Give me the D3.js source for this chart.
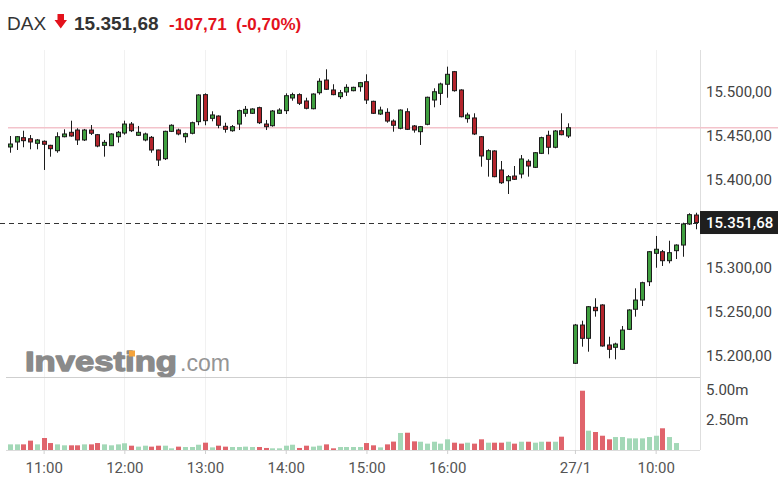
<!DOCTYPE html>
<html>
<head>
<meta charset="utf-8">
<script src="https://cdn.jsdelivr.net/npm/d3@7"></script>
<style>
  html, body { margin: 0; padding: 0; background: #fff; }
  svg { display: block; }
</style>
</head>
<body>
<div id="chart"></div>
<script>
// ---------- DATA ----------
const day1Times = ["10:35","10:40","10:45","10:50","10:55","11:00","11:05","11:10","11:15","11:20","11:25","11:30","11:35","11:40","11:45","11:50","11:55",
"12:00","12:05","12:10","12:15","12:20","12:25","12:30","12:35","12:40","12:45","12:50","12:55",
"13:00","13:05","13:10","13:15","13:20","13:25","13:30","13:35","13:40","13:45","13:50","13:55",
"14:00","14:05","14:10","14:15","14:20","14:25","14:30","14:35","14:40","14:45","14:50","14:55",
"15:00","15:05","15:10","15:15","15:20","15:25","15:30","15:35","15:40","15:45","15:50","15:55",
"16:00","16:05","16:10","16:15","16:20","16:25","16:30","16:35","16:40","16:45","16:50","16:55",
"17:00","17:05","17:10","17:15","17:20","17:25","17:30"];
const day2Times = ["09:00","09:05","09:10","09:15","09:20","09:25","09:30","09:35","09:40","09:45","09:50","09:55",
"10:00","10:05","10:10","10:15","10:20","10:25","10:30"];

const open1 = [15437.5,15443.2,15448.1,15446.9,15441.7,15444.0,15439.4,15433.3,15449.2,15454.2,15456.8,15445.5,15456.8,15451.5,15439.4,15439.0,15449.2,
15453.4,15463.6,15450.8,15445.5,15448.5,15434.1,15424.2,15455.3,15456.8,15449.2,15453.1,
15466.3,15497.0,15470.1,15472.7,15461.0,15456.0,15463.6,15475.8,15475.8,15482.2,15463.6,15461.7,15475.8,
15478.8,15493.2,15497.0,15489.8,15481.0,15499.2,15513.6,15502.3,15494.7,15500.0,15501.5,15506.0,
15511.7,15489.4,15475.0,15476.9,15467.0,15458.8,15477.6,15461.4,15454.9,15463.3,15490.9,15498.5,
15508.8,15523.1,15502.3,15469.7,15470.5,15449.2,15423.5,15433.0,15411.4,15399.2,15404.5,15406.8,
15421.3,15414.4,15430.3,15450.8,15437.2,15456.0,15450.0];
const high1 = [15450.0,15450.0,15456.0,15451.1,15446.6,15445.0,15440.0,15454.2,15457.6,15467.4,15458.8,15458.0,15462.5,15452.3,15445.5,15453.1,15455.7,
15467.4,15465.9,15461.4,15453.8,15450.0,15434.5,15456.0,15463.3,15458.3,15453.8,15466.3,
15497.4,15498.5,15478.1,15473.5,15465.1,15462.5,15479.9,15484.1,15481.5,15483.3,15468.2,15479.5,15481.5,
15498.5,15499.2,15498.5,15493.5,15498.5,15515.6,15525.8,15508.8,15502.3,15508.8,15506.0,15511.4,
15520.1,15490.1,15483.3,15481.5,15468.9,15480.3,15481.5,15462.5,15461.4,15494.7,15504.2,15510.6,
15528.8,15523.9,15503.1,15476.5,15475.8,15450.0,15434.9,15433.8,15421.6,15405.7,15415.9,15428.4,
15423.5,15431.8,15449.2,15456.0,15456.8,15475.8,15464.4];
const low1 = [15431.0,15434.1,15437.2,15434.9,15434.9,15411.4,15426.5,15431.0,15448.5,15449.2,15439.8,15444.3,15451.1,15437.2,15426.5,15438.6,15442.4,
15451.5,15454.5,15450.0,15444.0,15431.0,15415.9,15422.7,15454.5,15450.8,15442.4,15451.9,
15462.2,15462.2,15466.7,15458.8,15453.8,15454.9,15456.8,15471.9,15475.0,15463.6,15456.8,15460.6,15475.0,
15475.0,15490.1,15485.2,15480.3,15480.3,15497.0,15502.3,15496.3,15492.0,15495.5,15500.8,15500.4,
15486.4,15475.0,15473.9,15465.1,15454.9,15457.6,15456.8,15453.8,15439.8,15462.2,15482.6,15485.2,
15493.5,15500.4,15471.2,15465.1,15451.1,15415.1,15403.8,15403.1,15395.5,15384.1,15400.0,15401.9,
15403.8,15413.6,15429.5,15429.2,15436.0,15450.8,15447.7];
const close1 = [15440.9,15449.2,15444.7,15443.2,15445.5,15440.6,15435.6,15449.2,15452.3,15450.0,15445.5,15456.8,15453.1,15438.6,15442.8,15452.3,15454.2,
15463.6,15456.0,15454.2,15452.3,15434.1,15422.7,15455.3,15462.2,15452.3,15452.6,15465.1,
15496.6,15467.4,15473.9,15462.2,15457.6,15460.6,15478.8,15480.3,15480.7,15465.1,15460.6,15478.4,15479.5,
15495.8,15497.0,15487.2,15481.5,15497.7,15512.2,15503.1,15497.0,15499.2,15505.3,15505.3,15510.6,
15490.9,15475.8,15479.5,15467.0,15462.2,15479.5,15457.6,15456.8,15460.6,15494.0,15500.3,15509.1,
15520.1,15501.5,15471.9,15473.9,15452.3,15427.3,15433.3,15403.8,15396.9,15403.8,15400.8,15423.9,
15415.9,15431.0,15448.1,15437.2,15455.7,15451.5,15459.39];
const volume1 = [0.47,0.47,0.47,0.78,0.47,1.0,0.58,0.47,0.39,0.39,0.39,0.47,0.47,0.58,0.47,0.39,0.47,
0.56,0.36,0.28,0.36,0.28,0.36,0.36,0.14,0.28,0.25,0.25,
0.44,0.61,0.22,0.36,0.28,0.25,0.25,0.28,0.25,0.25,0.17,0.14,0.14,
0.36,0.44,0.17,0.36,0.28,0.36,0.47,0.14,0.25,0.25,0.25,0.25,
0.58,0.39,0.22,0.47,0.70,1.42,1.44,0.72,0.69,0.53,0.69,0.53,
0.89,0.61,0.53,0.61,0.53,0.89,0.61,0.61,0.61,0.69,0.53,0.69,
0.69,0.61,0.69,0.69,0.69,1.11,0];

const open2  = [15191.7,15235.2,15220.1,15255.3,15258.0,15212.5,15209.9,15207.6,15230.3,15253.1,15263.6,15284.4,15316.7,15318.5,15308.3,15319.7,15326.1,15350.0,15360.2];
const high2  = [15236.4,15240.1,15256.8,15265.6,15258.8,15221.9,15215.1,15234.1,15253.1,15276.9,15284.4,15319.3,15336.4,15320.5,15331.0,15326.9,15351.5,15362.2,15362.8];
const low2   = [15190.9,15210.6,15204.9,15244.7,15210.6,15197.4,15196.2,15206.8,15229.5,15244.7,15256.8,15279.5,15300.3,15302.3,15305.3,15310.2,15312.8,15348.9,15344.0];
const close2 = [15235.2,15220.1,15256.0,15251.5,15211.4,15207.6,15213.6,15229.5,15252.3,15263.6,15283.3,15318.5,15321.3,15308.3,15317.4,15326.1,15350.0,15360.6,15351.68];
const volume2 = [0,4.94,1.61,1.50,1.19,0.89,1.08,1.08,0.97,0.97,0.97,1.08,1.19,1.81,1.08,0.58,0,0,0];

const prevClose = 15459.39;
const lastPrice = 15351.68;
const change = "-107,71";
const changePct = "(-0,70%)";
const symbol = "DAX";

const priceTicks = [15200, 15250, 15300, 15400, 15450, 15500];
const volumeTicks = [2.5, 5];
const timeTickKeys = ["26/1 11:00","26/1 12:00","26/1 13:00","26/1 14:00","26/1 15:00","26/1 16:00","27/1 09:00","27/1 10:00"];
const timeTickLabels = ["11:00","12:00","13:00","14:00","15:00","16:00","27/1","10:00"];

// ---------- BUILD ----------
const rows = [];
day1Times.forEach((t, i) => rows.push({key: "26/1 " + t, o: open1[i], h: high1[i], l: low1[i], c: close1[i], v: volume1[i]}));
day2Times.forEach((t, i) => rows.push({key: "27/1 " + t, o: open2[i], h: high2[i], l: low2[i], c: close2[i], v: volume2[i]}));

const W = 784, H = 496;
const svg = d3.select("#chart").append("svg").attr("width", W).attr("height", H);

const x = d3.scalePoint().domain(rows.map(d => d.key)).range([10, 696]);
const y = d3.scaleLinear().domain([15200, 15500]).range([356, 92]);
const yv = d3.scaleLinear().domain([0, 5]).range([450, 390]);

const loc = d3.formatLocale({decimal: ",", thousands: ".", grouping: [3], currency: ["", ""]});
const fmtPrice = loc.format(",.2f");

const GREEN = "#3f9f3f", RED = "#b3242c";
const VGREEN = "#a3d8b7", VRED = "#e0646c";
const axisFont = "Roboto, 'Liberation Sans', Arial, sans-serif";

// vertical grid
svg.append("g").selectAll("line").data(timeTickKeys).join("line")
  .attr("x1", d => Math.round(x(d)) + 0.5).attr("x2", d => Math.round(x(d)) + 0.5)
  .attr("y1", 50).attr("y2", 450).attr("stroke", "#f1f1f1").attr("stroke-width", 1);

// watermark
const wm = svg.append("g");
wm.append("text").attr("x", 25).attr("y", 371).text("Investing")
  .attr("font-family", "'Liberation Sans', Arial, sans-serif").attr("font-weight", "bold")
  .attr("font-size", 27).attr("textLength", 152).attr("lengthAdjust", "spacingAndGlyphs")
  .attr("fill", "#8a8a8a").attr("stroke", "#8a8a8a").attr("stroke-width", 1.3).attr("stroke-linejoin", "round");
wm.append("text").attr("x", 180).attr("y", 371).text(".com")
  .attr("font-family", "'Liberation Sans', Arial, sans-serif")
  .attr("font-size", 24).attr("textLength", 50).attr("lengthAdjust", "spacingAndGlyphs")
  .attr("fill", "#959595");
wm.append("rect").attr("x", 129).attr("y", 350.5).attr("width", 6).attr("height", 6).attr("fill", "#f5a33b");

// frame lines
svg.append("line").attr("x1", 6).attr("x2", 700).attr("y1", 377.5).attr("y2", 377.5).attr("stroke", "#cfcfcf");
svg.append("line").attr("x1", 6).attr("x2", 700).attr("y1", 450.5).attr("y2", 450.5).attr("stroke", "#dcdcdc");
svg.append("line").attr("x1", 700.5).attr("x2", 700.5).attr("y1", 50).attr("y2", 450).attr("stroke", "#dedede");

// previous close line
svg.append("line").attr("x1", 8).attr("x2", 778)
  .attr("y1", y(prevClose)).attr("y2", y(prevClose))
  .attr("stroke", "#f3c3cb").attr("stroke-width", 1.5);

// volume bars
svg.append("g").selectAll("rect").data(rows.filter(d => d.v > 0)).join("rect")
  .attr("x", d => Math.round(x(d.key)) - 2.5 + 0.5)
  .attr("width", 5)
  .attr("y", d => yv(d.v))
  .attr("height", d => yv(0) - yv(d.v))
  .attr("fill", d => d.c >= d.o ? VGREEN : VRED);

// candles
const cg = svg.append("g").selectAll("g").data(rows).join("g");
cg.append("line")
  .attr("x1", d => Math.round(x(d.key)) + 0.5).attr("x2", d => Math.round(x(d.key)) + 0.5)
  .attr("y1", d => y(d.h)).attr("y2", d => y(d.l))
  .attr("stroke", "#1c1c1c").attr("stroke-width", 1);
cg.append("rect")
  .attr("x", d => Math.round(x(d.key)) - 1.5)
  .attr("width", 4)
  .attr("y", d => y(Math.max(d.o, d.c)))
  .attr("height", d => Math.max(1, Math.abs(y(d.o) - y(d.c))))
  .attr("fill", d => d.c >= d.o ? GREEN : RED)
  .attr("stroke", "#1c1c1c").attr("stroke-width", 1);

// last price dashed line
svg.append("line").attr("x1", 0).attr("x2", 700)
  .attr("y1", Math.round(y(lastPrice)) + 0.5).attr("y2", Math.round(y(lastPrice)) + 0.5)
  .attr("stroke", "#333").attr("stroke-dasharray", "5,4");

// price axis
const pa = svg.append("g").attr("transform", "translate(700,0)")
  .call(d3.axisRight(y).tickValues(priceTicks).tickFormat(fmtPrice).tickSize(0).tickPadding(6));
pa.select(".domain").remove();
pa.selectAll("text").attr("font-family", axisFont).attr("font-size", 15).attr("fill", "#444");

// volume axis
const va = svg.append("g").attr("transform", "translate(700,0)")
  .call(d3.axisRight(yv).tickValues(volumeTicks).tickFormat(d => d3.format(".2f")(d) + "m").tickSize(0).tickPadding(6));
va.select(".domain").remove();
va.selectAll("text").attr("font-family", axisFont).attr("font-size", 15).attr("fill", "#444");

// last price box
const ly = y(lastPrice);
svg.append("rect").attr("x", 700).attr("y", ly - 11.5).attr("width", 78).attr("height", 23).attr("fill", "#1f1f1f");
svg.append("text").attr("x", 706).attr("y", ly + 5.5).text(fmtPrice(lastPrice))
  .attr("font-family", axisFont).attr("font-size", 15).attr("font-weight", 500).attr("fill", "#fff");

// time axis
const ta = svg.append("g").attr("transform", "translate(0,450)")
  .call(d3.axisBottom(x).tickValues(timeTickKeys)
    .tickFormat(k => timeTickLabels[timeTickKeys.indexOf(k)]).tickSize(4).tickPadding(8));
ta.select(".domain").remove();
ta.selectAll(".tick line").attr("stroke", "#cfcfcf");
ta.selectAll("text").attr("font-family", axisFont).attr("font-size", 15).attr("fill", "#555");

// header
const hf = "'Liberation Sans', Arial, sans-serif";
svg.append("text").attr("x", 7).attr("y", 30).text(symbol)
  .attr("font-family", hf).attr("font-size", 19).attr("fill", "#333");
svg.append("path")
  .attr("d", "M57.5,14 H64 V20 H67 L60.75,28.5 L54.5,20 H57.5 Z")
  .attr("fill", "#e3121c");
svg.append("text").attr("x", 74).attr("y", 30).text(fmtPrice(lastPrice))
  .attr("font-family", hf).attr("font-size", 19).attr("font-weight", "bold").attr("fill", "#333");
svg.append("text").attr("x", 169).attr("y", 30).text(change)
  .attr("font-family", hf).attr("font-size", 17).attr("font-weight", "bold").attr("fill", "#e3121c");
svg.append("text").attr("x", 236).attr("y", 30).text(changePct)
  .attr("font-family", hf).attr("font-size", 17).attr("font-weight", "bold").attr("fill", "#e3121c");
</script>
</body>
</html>
